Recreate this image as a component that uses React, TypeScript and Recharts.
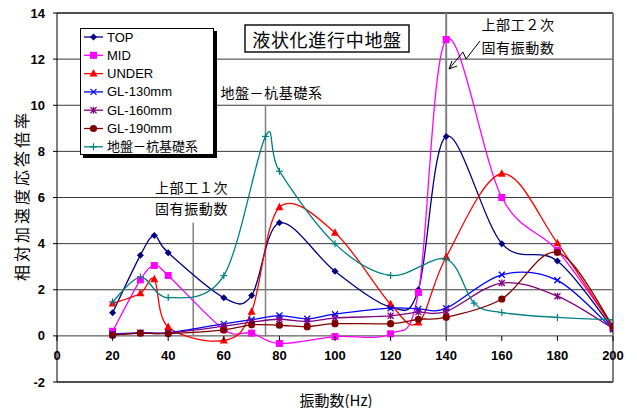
import React from 'react';
import { LineChart, Line, XAxis, YAxis, CartesianGrid, ReferenceLine, Legend } from 'recharts';

// ---------------- data ----------------
const xTicks = [0, 20, 40, 60, 80, 100, 120, 140, 160, 180, 200];
const yTicks = [-2, 0, 2, 4, 6, 8, 10, 12, 14];

const topFreq = [20, 30, 35, 40, 60, 70, 80, 100, 120, 130, 140, 160, 180, 200];
const topVal = [1.0, 3.5, 4.35, 3.6, 1.65, 1.75, 4.9, 2.8, 1.25, 2.0, 8.65, 4.0, 3.25, 0.3];

const midFreq = [20, 30, 35, 40, 60, 70, 80, 100, 120, 130, 140, 160, 180, 200];
const midVal = [0.2, 2.43, 3.05, 2.62, 0.28, 0.12, -0.33, -0.03, 0.09, 1.88, 12.85, 6.0, 3.7, 0.4];

const underFreq = [20, 30, 35, 40, 60, 70, 80, 100, 120, 130, 140, 160, 180, 200];
const underVal = [1.4, 1.85, 2.45, 0.38, -0.2, 1.05, 5.58, 4.47, 1.37, 0.58, 3.42, 7.03, 4.02, 0.35];

const glFreq = [20, 30, 40, 60, 70, 80, 90, 100, 120, 130, 140, 160, 180, 200];
const gl130Val = [0.08, 0.14, 0.14, 0.52, 0.7, 0.88, 0.74, 0.94, 1.2, 1.17, 1.2, 2.65, 2.41, 0.28];
const gl160Val = [0.05, 0.12, 0.12, 0.42, 0.6, 0.72, 0.62, 0.77, 0.87, 1.03, 1.06, 2.29, 1.72, 0.32];
const gl190Val = [0.03, 0.12, 0.1, 0.26, 0.48, 0.46, 0.4, 0.53, 0.53, 0.72, 0.81, 1.6, 3.62, 0.42];

const soilFreq = [20, 30, 40, 60, 75, 80, 100, 120, 140, 150, 160, 180, 200];
const soilVal = [1.47, 2.55, 1.66, 2.61, 8.65, 7.14, 3.99, 2.62, 3.33, 1.42, 1.01, 0.8, 0.7];

// vertical marker lines (frequency, top value)
const mode1Freq = 49;
const mode1Top = 4.9;
const soilModeFreq = 75;
const soilModeTop = 10;
const mode2Freq = 140;

const seriesNames = ['TOP', 'MID', 'UNDER', 'GL-130mm', 'GL-160mm', 'GL-190mm', '地盤－杭基礎系'];

// ---------------- layout ----------------
const W = 637;
const H = 408;
const PLOT_TOP = 13;
const X_AXIS_H = 26;
const Y_AXIS_W = 57;
const RIGHT_M = 24;
const Y_MIN = -2;
const Y_MAX = 14;
const PLOT_H = H - PLOT_TOP - X_AXIS_H;
const ZERO_Y = PLOT_TOP + (PLOT_H * (Y_MAX - 0)) / (Y_MAX - Y_MIN);

const FONT = "'Liberation Sans', Arial, 'Noto Sans CJK JP', sans-serif";
const JFONT = "'Noto Sans CJK JP', 'Liberation Sans', sans-serif";

const toData = (f: number[], v: number[]) => f.map((x, i) => ({ x, y: v[i] }));

type Shape = 'diamond' | 'square' | 'triangle' | 'x' | 'star' | 'circle' | 'plus';

const series: { name: string; color: string; shape: Shape; data: { x: number; y: number }[] }[] = [
  { name: seriesNames[0], color: '#000080', shape: 'diamond', data: toData(topFreq, topVal) },
  { name: seriesNames[1], color: '#FF00FF', shape: 'square', data: toData(midFreq, midVal) },
  { name: seriesNames[2], color: '#FF0000', shape: 'triangle', data: toData(underFreq, underVal) },
  { name: seriesNames[3], color: '#0000FF', shape: 'x', data: toData(glFreq, gl130Val) },
  { name: seriesNames[4], color: '#800080', shape: 'star', data: toData(glFreq, gl160Val) },
  { name: seriesNames[5], color: '#800000', shape: 'circle', data: toData(glFreq, gl190Val) },
  { name: seriesNames[6], color: '#008080', shape: 'plus', data: toData(soilFreq, soilVal) },
];

// Excel-like smoothed curve (Catmull-Rom style bezier)
const excelSmooth = (context: any) => {
  let pts: number[][] = [];
  return {
    areaStart() {},
    areaEnd() {},
    lineStart() {
      pts = [];
    },
    point(x: number, y: number) {
      pts.push([+x, +y]);
    },
    lineEnd() {
      const n = pts.length;
      if (n === 0) return;
      context.moveTo(pts[0][0], pts[0][1]);
      for (let i = 0; i < n - 1; i++) {
        const p0 = pts[Math.max(0, i - 1)];
        const p1 = pts[i];
        const p2 = pts[i + 1];
        const p3 = pts[Math.min(n - 1, i + 2)];
        context.bezierCurveTo(
          p1[0] + (p2[0] - p0[0]) / 6,
          p1[1] + (p2[1] - p0[1]) / 6,
          p2[0] - (p3[0] - p1[0]) / 6,
          p2[1] - (p3[1] - p1[1]) / 6,
          p2[0],
          p2[1]
        );
      }
    },
  };
};

const Marker = ({ shape, color, cx, cy }: { shape: Shape; color: string; cx: number; cy: number }) => {
  switch (shape) {
    case 'diamond':
      return <polygon points={`${cx},${cy - 3.5} ${cx + 3.5},${cy} ${cx},${cy + 3.5} ${cx - 3.5},${cy}`} fill={color} />;
    case 'square':
      return <rect x={cx - 3.5} y={cy - 3.5} width={7} height={7} fill={color} />;
    case 'triangle':
      return <polygon points={`${cx},${cy - 4.5} ${cx + 4},${cy + 3} ${cx - 4},${cy + 3}`} fill={color} />;
    case 'x':
      return (
        <g stroke={color} strokeWidth={1.3}>
          <line x1={cx - 3} y1={cy - 3} x2={cx + 3} y2={cy + 3} />
          <line x1={cx - 3} y1={cy + 3} x2={cx + 3} y2={cy - 3} />
        </g>
      );
    case 'star':
      return (
        <g stroke={color} strokeWidth={1.3}>
          <line x1={cx - 3} y1={cy - 3} x2={cx + 3} y2={cy + 3} />
          <line x1={cx - 3} y1={cy + 3} x2={cx + 3} y2={cy - 3} />
          <line x1={cx} y1={cy - 3.5} x2={cx} y2={cy + 3.5} />
        </g>
      );
    case 'circle':
      return <circle cx={cx} cy={cy} r={3.6} fill={color} />;
    case 'plus':
    default:
      return (
        <g stroke={color} strokeWidth={1.2}>
          <line x1={cx - 3.5} y1={cy} x2={cx + 3.5} y2={cy} />
          <line x1={cx} y1={cy - 3.5} x2={cx} y2={cy + 3.5} />
        </g>
      );
  }
};

const makeDot = (shape: Shape, color: string) => (props: any) => {
  const { cx, cy, index } = props;
  if (cx == null || cy == null) return <g key={`e-${index}`} />;
  return (
    <g key={`d-${index}`}>
      <Marker shape={shape} color={color} cx={cx} cy={cy} />
    </g>
  );
};

const XTick = (props: any) => {
  const { x, payload } = props;
  return (
    <g>
      <line x1={x} x2={x} y1={ZERO_Y} y2={ZERO_Y + 5} stroke="#000" strokeWidth={1} />
      <text x={x} y={ZERO_Y + 24} textAnchor="middle" fontWeight="bold" fontSize={13} fill="#000" fontFamily={FONT}>
        {payload.value}
      </text>
    </g>
  );
};

const LegendBox = () => {
  const w = 134;
  const h = 127;
  const rowH = 18.3;
  return (
    <svg width={w + 4} height={h + 4} style={{ display: 'block' }}>
      <rect x={3} y={3} width={w} height={h} fill="#000" />
      <rect x={0.5} y={0.5} width={w - 1} height={h - 1} fill="#fff" stroke="#000" strokeWidth={1} />
      {series.map((s, i) => {
        const cy = 9 + i * rowH;
        return (
          <g key={s.name}>
            <line x1={4} x2={23} y1={cy} y2={cy} stroke={s.color} strokeWidth={1.3} />
            <Marker shape={s.shape} color={s.color} cx={13.5} cy={cy} />
            <text x={27} y={cy} dominantBaseline="central" fontSize={13} fontFamily={FONT} fill="#000">
              {s.name}
            </text>
          </g>
        );
      })}
    </svg>
  );
};

const YLabel = (props: any) => {
  const vb = props.viewBox || { x: 0, y: PLOT_TOP, width: Y_AXIS_W, height: PLOT_H };
  const cx = 21;
  const cy = vb.y + vb.height / 2 - 2;
  return (
    <text
      x={cx}
      y={cy}
      transform={`rotate(-90 ${cx} ${cy})`}
      textAnchor="middle"
      dominantBaseline="central"
      fontSize={16}
      letterSpacing={3}
      fontFamily={JFONT}
      fill="#000"
    >
      相対加速度応答倍率
    </text>
  );
};

const XLabel = (props: any) => {
  const vb = props.viewBox || { x: Y_AXIS_W, y: H - X_AXIS_H, width: W - Y_AXIS_W - RIGHT_M, height: X_AXIS_H };
  return (
    <text
      x={vb.x + vb.width / 2 + 1}
      y={vb.y + 17}
      textAnchor="middle"
      dominantBaseline="central"
      fontSize={15}
      fontFamily={JFONT}
      fill="#000"
    >
      振動数(Hz)
    </text>
  );
};

const Annotations = () => (
  <svg width={W} height={H} style={{ position: 'absolute', left: 0, top: 0, pointerEvents: 'none' }}>
    <rect x={245} y={25} width={164} height={27} fill="#fff" stroke="#000" strokeWidth={1.4} />
    <text x={327} y={38.5} textAnchor="middle" dominantBaseline="central" fontSize={18} letterSpacing={0.7} fontFamily={JFONT} fill="#000">
      液状化進行中地盤
    </text>
    <text x={271.5} y={92} textAnchor="middle" dominantBaseline="central" fontSize={14} letterSpacing={0.6} fontFamily={JFONT} fill="#000">
      地盤－杭基礎系
    </text>
    <text x={191.5} y={187} textAnchor="middle" dominantBaseline="central" fontSize={14} letterSpacing={0.6} fontFamily={JFONT} fill="#000">
      上部工１次
    </text>
    <text x={191.5} y={208} textAnchor="middle" dominantBaseline="central" fontSize={14} letterSpacing={0.6} fontFamily={JFONT} fill="#000">
      固有振動数
    </text>
    <text x={518} y={24} textAnchor="middle" dominantBaseline="central" fontSize={14} letterSpacing={0.6} fontFamily={JFONT} fill="#000">
      上部工２次
    </text>
    <text x={518} y={47} textAnchor="middle" dominantBaseline="central" fontSize={14} letterSpacing={0.6} fontFamily={JFONT} fill="#000">
      固有振動数
    </text>
    <polyline points="480,41 466,59 463,52 449,69" fill="none" stroke="#000" strokeWidth={1} />
    <polyline points="452,61 449,69 457,66" fill="none" stroke="#000" strokeWidth={1} />
  </svg>
);

export default function App() {
  return (
    <div style={{ position: 'absolute', left: 0, top: 0, width: W, height: H, background: '#fff', fontFamily: FONT }}>
      <LineChart width={W} height={H} margin={{ top: PLOT_TOP, right: RIGHT_M, bottom: 0, left: 0 }}>
        <CartesianGrid vertical={false} stroke="#3a3a3a" strokeWidth={1} />
        <XAxis
          dataKey="x"
          type="number"
          domain={[0, 200]}
          ticks={xTicks}
          interval={0}
          height={X_AXIS_H}
          tickLine={false}
          tick={<XTick />}
          axisLine={{ stroke: '#000', strokeWidth: 1 }}
          allowDataOverflow
          label={<XLabel />}
        />
        <YAxis
          type="number"
          domain={[Y_MIN, Y_MAX]}
          ticks={yTicks}
          interval={0}
          width={Y_AXIS_W}
          tickSize={4}
          tickMargin={8}
          tickLine={{ stroke: '#000' }}
          axisLine={{ stroke: '#000', strokeWidth: 1 }}
          tick={{ fontSize: 13, fontWeight: 'bold', fill: '#000', fontFamily: FONT }}
          allowDataOverflow
          label={<YLabel />}
        />
        <ReferenceLine y={Y_MAX} stroke="#000" strokeWidth={1} />
        <ReferenceLine x={200} stroke="#808080" strokeWidth={2} />
        <ReferenceLine segment={[{ x: mode1Freq, y: 0 }, { x: mode1Freq, y: mode1Top }]} stroke="#808080" strokeWidth={1.5} />
        <ReferenceLine segment={[{ x: soilModeFreq, y: 0 }, { x: soilModeFreq, y: soilModeTop }]} stroke="#808080" strokeWidth={1.5} />
        <ReferenceLine segment={[{ x: mode2Freq, y: 0 }, { x: mode2Freq, y: Y_MAX }]} stroke="#808080" strokeWidth={2} />
        <Legend
          layout="vertical"
          verticalAlign="middle"
          align="center"
          content={<LegendBox />}
          wrapperStyle={{ position: 'absolute', left: 80, top: 28, width: 138, height: 131 }}
        />
        {series.map((s) => (
          <Line
            key={s.name}
            name={s.name}
            data={s.data}
            dataKey="y"
            type={excelSmooth as any}
            stroke={s.color}
            strokeWidth={1.3}
            dot={makeDot(s.shape, s.color)}
            activeDot={false}
            isAnimationActive={false}
          />
        ))}
      </LineChart>
      <Annotations />
    </div>
  );
}
